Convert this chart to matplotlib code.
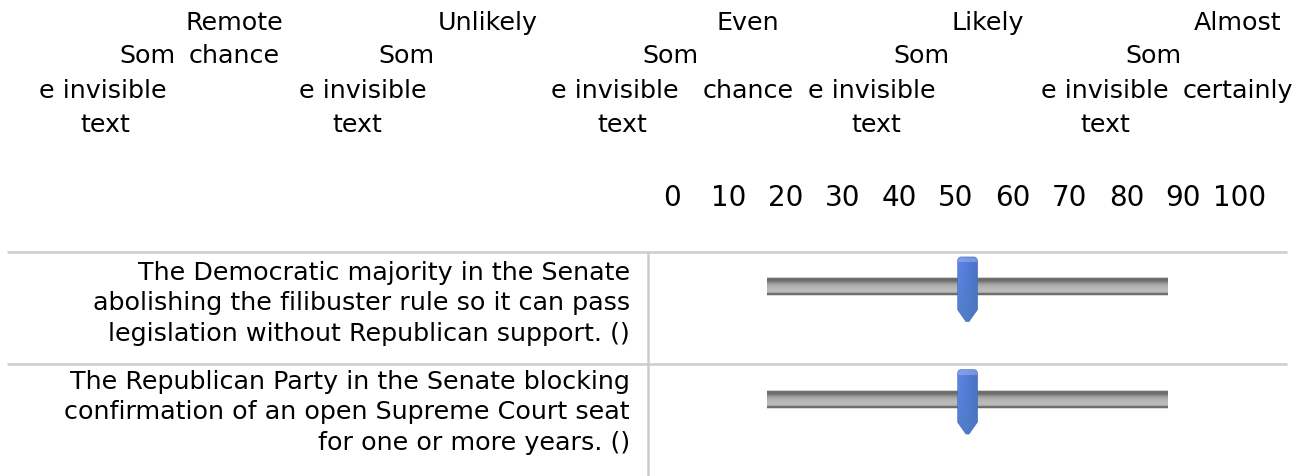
import numpy as np
import matplotlib
matplotlib.use("Agg")
import matplotlib.pyplot as plt
from matplotlib.patches import Polygon

# --- data -------------------------------------------------------------
header_first = ["Remote", "Unlikely", "Even", "Likely", "Almost"]
header_second = ["chance", "", "chance", "", "certainly"]
filler_parts = ["Som", "e invisible", "text"]   # "Some invisible text" wrapped
scale_ticks = [0, 10, 20, 30, 40, 50, 60, 70, 80, 90, 100]
statements = [
    "The Democratic majority in the Senate\n"
    "abolishing the filibuster rule so it can pass\n"
    "legislation without Republican support. ()",
    "The Republican Party in the Senate blocking\n"
    "confirmation of an open Supreme Court seat\n"
    "for one or more years. ()",
]
slider_values = [50, 50]

# --- layout (pixels, y from top) --------------------------------------
W, H = 1307, 476
FS = 18.3
plt.rcParams["font.family"] = ["DejaVu Sans"]

fig = plt.figure(figsize=(W / 100, H / 100), dpi=100)
ax = fig.add_axes([0, 0, 1, 1])
ax.set_xlim(0, W)
ax.set_ylim(H, 0)
ax.axis("off")

header_x = [234, 488, 748, 988, 1238]
second_row = [1, None, 2, None, 2]
row_base = [30, 63, 98, 132]
filler_x = [[147, 406, 670, 921, 1153],
            [103, 363, 615, 872, 1105],
            [105, 357, 622, 876, 1105]]

for i, lab in enumerate(header_first):
    ax.text(header_x[i], row_base[0], lab, ha="center", va="baseline", fontsize=FS)
    if header_second[i]:
        ax.text(header_x[i], row_base[second_row[i]], header_second[i],
                ha="center", va="baseline", fontsize=FS)
for r, part in enumerate(filler_parts):
    for xc in filler_x[r]:
        ax.text(xc, row_base[r + 1], part, ha="center", va="baseline", fontsize=FS)

# scale numbers above the sliders
tax = fig.add_axes([672 / W, 1 - 184 / H, (1240 - 672) / W, 0.001])
tax.set_xlim(0, 100)
tax.set_xticks(scale_ticks)
tax.set_xticklabels([str(t) for t in scale_ticks], fontsize=20)
tax.tick_params(length=0, pad=0)
tax.set_yticks([])
for s in tax.spines.values():
    s.set_visible(False)

# grid lines of the table
sep_y = [252, 364]
for y in sep_y:
    ax.plot([7, 1287], [y, y], color="#cccccc", lw=1.8, solid_capstyle="butt")
ax.plot([648, 648], [sep_y[0], H], color="#cccccc", lw=1.8)

# statement text
text_top = [261, 370]
for i, st in enumerate(statements):
    ax.text(630, text_top[i], st, ha="right", va="top", fontsize=FS, linespacing=1.33)

# sliders
track_shade = np.array([0.82, 0.44, 0.42, 0.43, 0.47, 0.54, 0.60, 0.64, 0.67, 0.69,
                        0.71, 0.72, 0.73, 0.73, 0.72, 0.66, 0.44, 0.42, 0.85])
track_center = [286.5, 399]
x0, x1 = 767, 1168
px_per_unit = (x1 - x0) / 100.0

left_col = np.array([96, 132, 232]) / 255
right_col = np.array([74, 112, 200]) / 255
bottom_tint = np.array([74, 124, 184]) / 255
gx = np.linspace(0, 1, 20)[None, :, None]
gy = np.linspace(0, 1, 65)[:, None, None]
handle_img = left_col * (1 - gx) + right_col * gx
handle_img = handle_img * (1 - 0.6 * gy) + bottom_tint * 0.6 * gy
handle_img[:5] = handle_img[:5] * 0.55 + 0.45 * np.array([0.66, 0.76, 0.97])
handle_img = np.clip(handle_img, 0, 1)

for i, val in enumerate(slider_values):
    c = track_center[i]
    sax = fig.add_axes([x0 / W, 1 - (c + 40) / H, (x1 - x0) / W, 73 / H])
    sax.axis("off")
    sax.imshow(track_shade[:, None], cmap="gray", vmin=0, vmax=1, aspect="auto",
               extent=(0, 100, 9.5, -9.5), interpolation="nearest")
    hw = 10 / px_per_unit
    pts = [(-10, 23), (-10, -26), (-9, -28.3), (-7, -29.5), (7, -29.5),
           (9, -28.3), (10, -26), (10, 23), (1.5, 35), (-1.5, 35)]
    poly = Polygon([(val + dx / px_per_unit, dy) for dx, dy in pts], closed=True,
                   facecolor="none", edgecolor="#4a6cc0", lw=0.5, zorder=4)
    sax.add_patch(poly)
    im = sax.imshow(handle_img, aspect="auto", extent=(val - hw, val + hw, 35.5, -29.5),
                    zorder=3, interpolation="bilinear")
    im.set_clip_path(poly)
    sax.set_xlim(0, 100)
    sax.set_ylim(40, -33)

fig.savefig("out.png", dpi=100)
